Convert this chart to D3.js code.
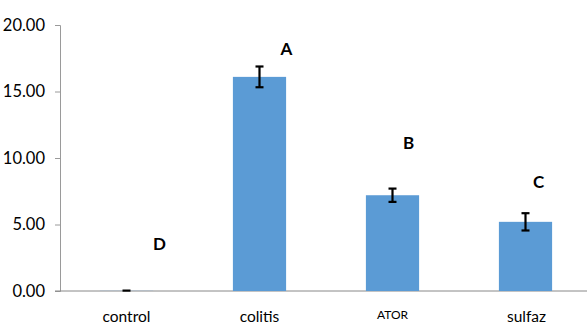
<!DOCTYPE html>
<html>
<head>
<meta charset="utf-8">
<script src="https://cdn.jsdelivr.net/npm/d3@7/dist/d3.min.js"></script>
<style>
  html, body { margin: 0; padding: 0; background: #fff; }
  svg { display: block; }
  text { font-family: Lato, "Open Sans", sans-serif; fill: #000; }
</style>
</head>
<body>
<svg id="chart" width="587" height="325"></svg>
<script>
// Group means, standard errors and significance letters
const categories = ["control", "colitis", "ATOR", "sulfaz"];
const means = [0.01, 16.1, 7.2, 5.2];
const errors = [0.02, 0.78, 0.5, 0.65];
const letters = ["D", "A", "B", "C"];
const letterLevels = [3.5, 18.2, 11.1, 8.2];
const yTicks = [0, 5, 10, 15, 20];

const svg = d3.select("#chart");

const x = d3.scaleBand()
  .domain(categories)
  .range([60, 592])
  .paddingInner(0.6)
  .paddingOuter(0.3);

const y = d3.scaleLinear()
  .domain([0, 20])
  .range([291, 25]);

// Y axis
const yAxis = d3.axisLeft(y)
  .tickValues(yTicks)
  .tickFormat(d3.format(".2f"))
  .tickSize(5)
  .tickPadding(10);

const gy = svg.append("g")
  .attr("transform", "translate(60,0)")
  .call(yAxis);
gy.selectAll("path, line").attr("stroke", "#9a9a9a");
gy.selectAll("text").attr("font-size", 16.5).attr("font-family", "Lato, sans-serif");

// X axis baseline
svg.append("line")
  .attr("x1", 55).attr("x2", 587)
  .attr("y1", y(0)).attr("y2", y(0))
  .attr("stroke", "#888").attr("stroke-width", 1);

// Bars
svg.append("g").selectAll("rect")
  .data(categories)
  .join("rect")
  .attr("x", d => x(d))
  .attr("width", x.bandwidth())
  .attr("y", (d, i) => y(means[i]))
  .attr("height", (d, i) => y(0) - y(means[i]))
  .attr("fill", "#5B9BD5");

// Error bars
const eb = svg.append("g").attr("stroke", "#000").attr("stroke-width", 2.2);
categories.forEach((c, i) => {
  const cx = x(c) + x.bandwidth() / 2;
  const lo = y(Math.max(0, means[i] - errors[i]));
  const hi = y(means[i] + errors[i]);
  if (i > 0) eb.append("line").attr("x1", cx).attr("x2", cx).attr("y1", lo).attr("y2", hi);
  eb.append("line").attr("x1", cx - 4).attr("x2", cx + 4).attr("y1", hi).attr("y2", hi);
  if (i > 0) eb.append("line").attr("x1", cx - 4).attr("x2", cx + 4).attr("y1", lo).attr("y2", lo);
});

// Significance letters
const letterShift = [33, 27, 16, 13];
svg.append("g").selectAll("text")
  .data(categories)
  .join("text")
  .attr("x", (d, i) => x(d) + x.bandwidth() / 2 + letterShift[i])
  .attr("y", (d, i) => y(letterLevels[i]))
  .attr("dy", "0.35em")
  .attr("text-anchor", "middle")
  .attr("font-weight", "bold")
  .attr("font-size", 17)
  .text((d, i) => letters[i]);

// Category labels
svg.append("g").selectAll("text")
  .data(categories)
  .join("text")
  .attr("x", d => x(d) + x.bandwidth() / 2 + (d === "sulfaz" ? 1 : 0))
  .attr("y", d => d === "ATOR" ? 315 : 317)
  .attr("dy", "0.35em")
  .attr("text-anchor", "middle")
  .attr("font-size", d => d === "ATOR" ? 12 : 15.5)
  .text(d => d);
</script>
</body>
</html>
